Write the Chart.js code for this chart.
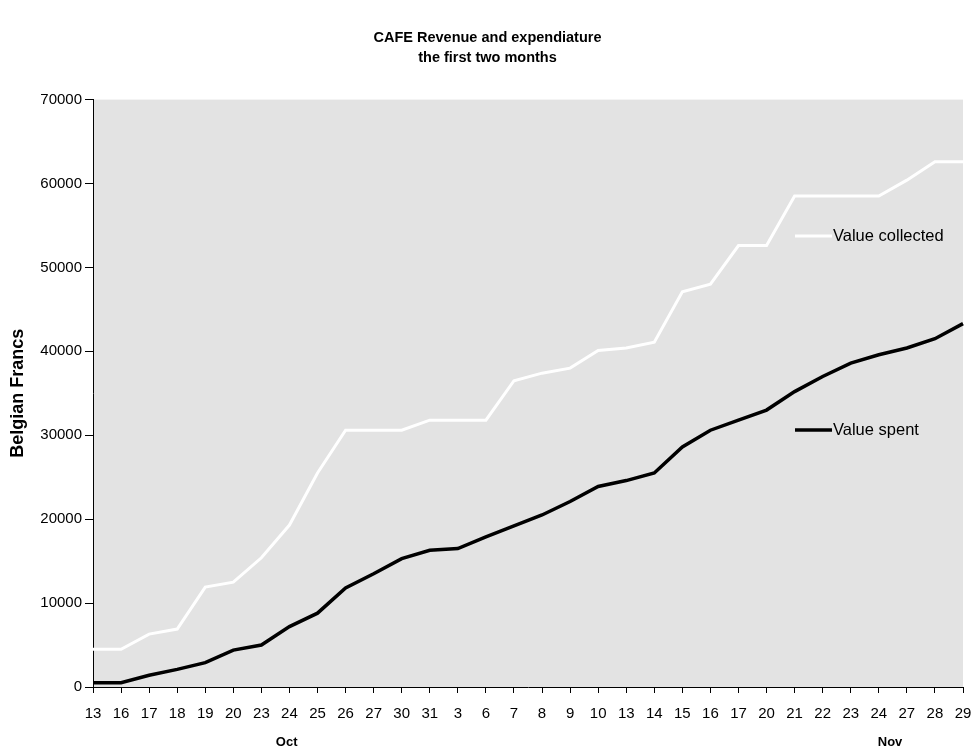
<!DOCTYPE html>
<html>
<head>
<meta charset="utf-8">
<script src="https://cdn.jsdelivr.net/npm/chart.js@4/dist/chart.umd.min.js"></script>
<style>
  html, body { margin: 0; padding: 0; background: #fff; }
  #wrap { width: 975px; height: 753px; }
</style>
</head>
<body>
<div id="wrap"><canvas id="chart" width="975" height="753"></canvas></div>
<script>
// days of the first two months (Oct, then Nov)
const days = ['13','16','17','18','19','20','23','24','25','26','27','30','31',
              '3','6','7','8','9','10','13','14','15','16','17','20','21','22','23','24','27','28','29'];

const valueCollected = [4500, 4500, 6300, 6900, 11900, 12500, 15400, 19300, 25500, 30600, 30600, 30600, 31800,
                        31800, 31800, 36500, 37400, 38000, 40100, 40400, 41100, 47100, 48000, 52600, 52600,
                        58500, 58500, 58500, 58500, 60400, 62600, 62600];

const valueSpent = [500, 500, 1400, 2100, 2900, 4400, 5000, 7200, 8800, 11800, 13500, 15300, 16300,
                    16500, 17900, 19200, 20500, 22100, 23900, 24600, 25500, 28600, 30600, 31800, 33000,
                    35200, 37000, 38600, 39600, 40400, 41500, 43300];

const months = ['Oct', 'Nov'];
const monthPos = [6.9, 28.4]; // category index where month label sits

const FONT = 'Arial, "Liberation Sans", sans-serif';

// grey plot background
const plotBg = {
    id: 'plotBg',
    beforeDraw(chart) {
        const a = chart.chartArea;
        const ctx = chart.ctx;
        ctx.save();
        ctx.fillStyle = '#e3e3e3';
        ctx.fillRect(a.left, a.top, a.right - a.left, a.bottom - a.top);
        ctx.restore();
    }
};

// month names under the day labels
const monthLabels = {
    id: 'monthLabels',
    afterDraw(chart) {
        const ctx = chart.ctx;
        const x = chart.scales.x;
        ctx.save();
        ctx.font = 'bold 13px ' + FONT;
        ctx.fillStyle = '#000';
        ctx.textAlign = 'center';
        ctx.textBaseline = 'middle';
        months.forEach((m, i) => {
            ctx.fillText(m, x.getPixelForValue(monthPos[i]), 742);
        });
        ctx.restore();
    }
};

// legend entries placed next to the lines, inside the plot
const lineLegend = {
    id: 'lineLegend',
    afterDatasetsDraw(chart) {
        const ctx = chart.ctx;
        const spots = [{x: 795, y: 236}, {x: 795, y: 430}];
        ctx.save();
        ctx.font = '16.5px ' + FONT;
        ctx.textBaseline = 'middle';
        ctx.textAlign = 'left';
        chart.data.datasets.forEach((ds, i) => {
            const p = spots[i];
            ctx.strokeStyle = ds.borderColor;
            ctx.lineWidth = ds.borderWidth;
            ctx.beginPath();
            ctx.moveTo(p.x, p.y);
            ctx.lineTo(p.x + 37, p.y);
            ctx.stroke();
            ctx.fillStyle = '#000';
            ctx.fillText(ds.label, p.x + 38, p.y);
        });
        ctx.restore();
    }
};

new Chart(document.getElementById('chart'), {
    type: 'line',
    data: {
        labels: days,
        datasets: [
            {
                label: 'Value collected',
                data: valueCollected,
                borderColor: '#ffffff',
                borderWidth: 3,
                pointRadius: 0,
                tension: 0
            },
            {
                label: 'Value spent',
                data: valueSpent,
                borderColor: '#000000',
                borderWidth: 3.5,
                pointRadius: 0,
                tension: 0
            }
        ]
    },
    options: {
        responsive: false,
        animation: false,
        layout: { padding: 0 },
        plugins: {
            legend: { display: false },
            tooltip: { enabled: false },
            title: {
                display: true,
                text: ['CAFE Revenue and expendiature', 'the first two months'],
                color: '#000',
                font: { family: FONT, size: 14.5, weight: 'bold', lineHeight: 1.4 },
                padding: { top: 28, bottom: 31 }
            }
        },
        scales: {
            x: {
                offset: false,
                grid: { display: true, drawOnChartArea: false, drawTicks: true, tickLength: 6, color: '#000' },
                border: { display: true, color: '#000', width: 1 },
                ticks: {
                    color: '#000',
                    font: { family: FONT, size: 15 },
                    maxRotation: 0,
                    autoSkip: false,
                    padding: 12
                },
                afterFit(scale) {
                    // pin the plot's right edge 12px from the canvas edge
                    scale.height = 66;
                    scale.paddingLeft = 0;
                    scale.paddingRight = 12;
                }
            },
            y: {
                min: 0,
                max: 70000,
                grid: { display: true, drawOnChartArea: false, drawTicks: true, tickLength: 8, color: '#000' },
                border: { display: true, color: '#000', width: 1 },
                ticks: {
                    stepSize: 10000,
                    color: '#000',
                    font: { family: FONT, size: 15 },
                    padding: 3,
                    callback: (v) => String(v)
                },
                title: {
                    display: true,
                    text: 'Belgian Francs',
                    color: '#000',
                    font: { family: FONT, size: 18, weight: 'bold' },
                    padding: { top: 7, bottom: 0 }
                },
                afterFit(scale) { scale.width = 93; }
            }
        }
    },
    plugins: [plotBg, monthLabels, lineLegend]
});
</script>
</body>
</html>
